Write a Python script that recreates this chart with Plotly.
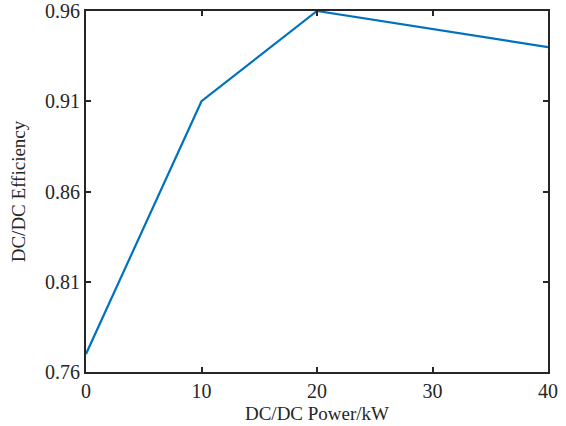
import plotly.graph_objects as go

power_kw = [0, 10, 20, 40]
efficiency = [0.77, 0.91, 0.96, 0.94]
x_ticks = [0, 10, 20, 30, 40]
y_ticks = [0.76, 0.81, 0.86, 0.91, 0.96]

fig = go.Figure()
fig.add_trace(go.Scatter(
    x=power_kw, y=efficiency, mode="lines",
    line=dict(color="#0072BD", width=2.2),
    showlegend=False,
))

axis_common = dict(
    showgrid=False, zeroline=False,
    showline=True, linecolor="#262626", linewidth=2,
    mirror="ticks", ticks="inside", ticklen=5, tickwidth=2, tickcolor="#262626",
    tickfont=dict(family="Liberation Serif", size=20, color="#262626"),
)

fig.update_xaxes(
    range=[0, 40], tickvals=x_ticks, ticktext=[str(v) for v in x_ticks],
    title=dict(text="DC/DC Power/kW", font=dict(family="Liberation Serif", size=19, color="#262626"), standoff=6),
    **axis_common,
)
fig.update_yaxes(
    range=[0.76, 0.96], tickvals=y_ticks, ticktext=[f"{v:.2f}" for v in y_ticks],
    title=dict(text="DC/DC Efficiency", font=dict(family="Liberation Serif", size=19, color="#262626"), standoff=14),
    **axis_common,
)

fig.update_layout(
    width=566, height=426,
    margin=dict(l=86, r=18, t=11, b=54, autoexpand=False),
    paper_bgcolor="white", plot_bgcolor="white",
)

fig.write_html("out.html")
